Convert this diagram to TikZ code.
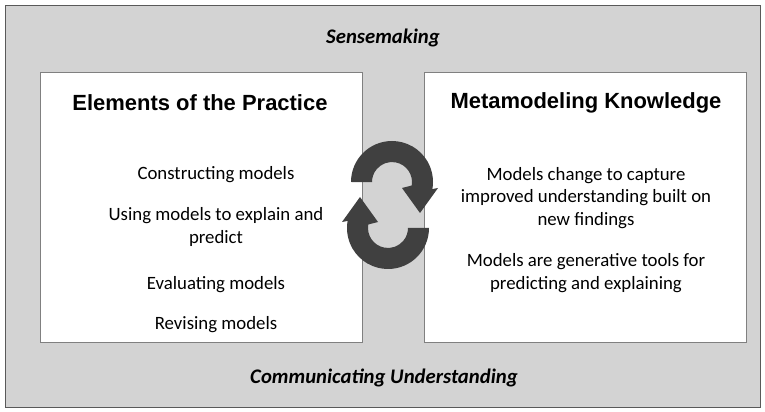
\documentclass[tikz,border=0pt]{standalone}
\usepackage{fontspec}
\setmainfont{Carlito}
\newfontfamily\headfont{Liberation Sans}
\usetikzlibrary{positioning}
\definecolor{bggray}{RGB}{211,211,211}
\definecolor{linegray}{RGB}{128,128,128}
\definecolor{cyclegray}{RGB}{64,64,64}

\begin{document}
\begin{tikzpicture}[x=0.02cm, y=-0.02cm,
    panel/.style={draw=linegray, fill=white, minimum width=6.44cm, minimum height=5.4cm},
    head/.style={font=\headfont\bfseries\fontsize{12.5}{15}\selectfont},
    item/.style={font=\fontsize{10.7}{13}\selectfont, align=center},
    theme/.style={font=\bfseries\itshape\fontsize{11.8}{14}\selectfont}]
  \useasboundingbox (0,0) rectangle (765,412);
  \node[draw=black!65, fill=bggray, minimum width=15.1cm, minimum height=8.04cm] (frame) at (382.5,206) {};
  \node[panel] (practice) at (201.5,207) {};
  \node[panel] (knowledge) at (585.5,207) {};
  % themes round the two panels
  \node[theme] (sense) at (383,38) {Sensemaking};
  \node[theme] (comm) at (384,378) {Communicating Understanding};
  % left panel
  \node[head] (ptitle) at (200,103) {Elements of the Practice};
  \node[item] (construct) at (216,175) {Constructing models};
  \node[item] (using) at (216,227) {Using models to explain and\\predict};
  \node[item] (evaluate) at (216,285) {Evaluating models};
  \node[item] (revise) at (216,325) {Revising models};
  % right panel
  \node[head] (ktitle) at (586,103) {Metamodeling Knowledge};
  \node[item] (change) at (586,198) {Models change to capture\\improved understanding built on\\new findings};
  \node[item] (generate) at (586,273) {Models are generative tools for\\predicting and explaining};
  % cycle arrows
  \foreach \r in {0,180}
    \fill[cyclegray, rotate around={\r:(390,205)}]
      (351,182) arc[start angle=180, end angle=370, radius=41]
      -- (438,188) -- (420,213) -- (402,188) -- (411.7,185.5)
      arc[start angle=370, end angle=180, radius=20] -- cycle;
\end{tikzpicture}
\end{document}
